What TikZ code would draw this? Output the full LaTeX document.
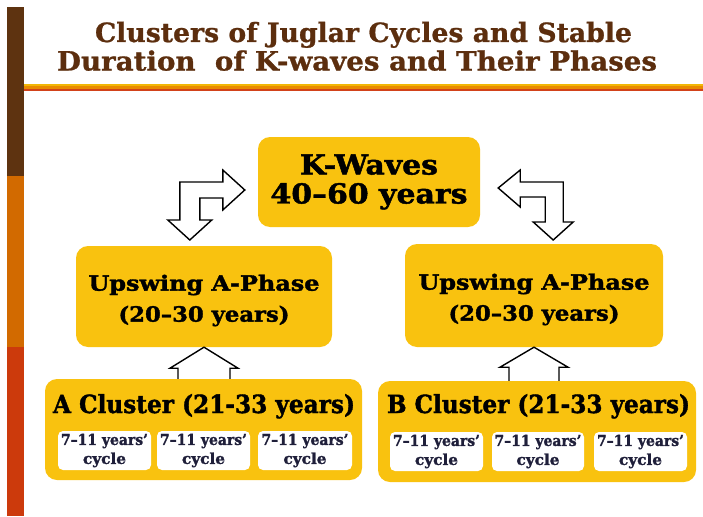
\documentclass[tikz,border=0pt]{standalone}
\usepackage{fontspec}
\usepackage{graphicx}
\setmainfont{DejaVu Serif}
\newfontfamily\heavyfont{DejaVu Serif}[BoldFeatures={FakeBold=1.6}]
\newfontfamily\midfont{DejaVu Serif}[BoldFeatures={FakeBold=0.9}]
\newcommand\fitw[2]{\resizebox{#1}{\height}{#2}}
\definecolor{gold}{HTML}{F9C20F}
\definecolor{ttl}{HTML}{5C2E0E}
\definecolor{barbrown}{HTML}{5E3310}
\definecolor{barorange}{HTML}{D26A00}
\definecolor{barred}{HTML}{CC3A0C}
\definecolor{lnyel}{HTML}{F2B705}
\definecolor{lnora}{HTML}{E98B00}
\definecolor{lnred}{HTML}{D2421A}
\definecolor{cyctext}{HTML}{1F1F3A}
\begin{document}
\begin{tikzpicture}[x=1pt,y=-1pt,
  box/.style={fill=gold, rounded corners=12pt, draw=none, inner sep=0pt},
  cyc/.style={fill=white, rounded corners=5pt, minimum width=93pt, minimum height=39pt,
    inner sep=0pt, align=center, text=cyctext,
    font=\heavyfont\fontsize{15}{19}\selectfont\bfseries},
  txt/.style={inner sep=0pt, align=center},
  arr/.style={draw=black, fill=white, line width=1.4pt, line join=miter}]
\useasboundingbox (0,0) rectangle (703,516);
% side bar
\fill[barbrown] (7,7) rectangle (24,176);
\fill[barorange] (7,176) rectangle (24,347);
\fill[barred] (7,347) rectangle (24,516);
% rule under title
\fill[lnyel] (24,84) rectangle (703,86.4);
\fill[lnora] (24,86.4) rectangle (703,88.7);
\fill[lnred] (24,88.7) rectangle (703,91);
% title
\node[txt, anchor=base, text=ttl, font=\midfont\fontsize{26.5}{30}\selectfont\bfseries] (t1) at (363.5,42)
  {\fitw{537pt}{Clusters of Juglar Cycles and Stable}};
\node[txt, anchor=base, text=ttl, font=\midfont\fontsize{26.5}{30}\selectfont\bfseries] (t2) at (357,70.5)
  {\fitw{600pt}{Duration\ \ of K-waves and Their Phases}};
% boxes
\node[box, minimum width=222pt, minimum height=90pt, align=center,
  font=\heavyfont\fontsize{27.5}{29}\selectfont\bfseries] (kw) at (369,182)
  {\fitw{138pt}{K-Waves}\\\fitw{197pt}{40–60 years}};
\node[box, minimum width=256pt, minimum height=101pt] (upL) at (204,296.5) {};
\node[box, minimum width=258pt, minimum height=103pt] (upR) at (534,295.5) {};
\node[txt, font=\heavyfont\fontsize{21}{31}\selectfont\bfseries] (upLt) at (upL.center) [yshift=-4pt]
  {\fitw{231pt}{Upswing A-Phase}\\\fitw{171pt}{(20–30 years)}};
\node[txt, font=\heavyfont\fontsize{21}{31}\selectfont\bfseries] (upRt) at (upR.center) [yshift=-4pt]
  {\fitw{231pt}{Upswing A-Phase}\\\fitw{171pt}{(20–30 years)}};
% up arrows (drawn before cluster boxes)
\draw[arr, shift={(upL.south)}] (0,0) -- (34,21) -- (26,21) -- (26,35) -- (-26,35) -- (-26,21) -- (-34,21) -- cycle;
\draw[arr, shift={(upR.south)}] (0,0) -- (34,20) -- (25,20) -- (25,37) -- (-25,37) -- (-25,20) -- (-34,20) -- cycle;
% bent arrows
\draw[arr, shift={(kw.west)}] (-78,0) -- (-35,0) -- (-35,-12) -- (-13,8) -- (-35,28) -- (-35,16)
  -- (-58,16) -- (-58,38) -- (-46,38) -- (-68,58) -- (-90,38) -- (-78,38) -- cycle;
\draw[arr, shift={(kw.east)}] (83,0) -- (40,0) -- (40,-12) -- (18,6) -- (40,25) -- (40,15)
  -- (65,15) -- (65,40) -- (53,40) -- (73,58) -- (93,40) -- (83,40) -- cycle;
% cluster boxes
\node[box, minimum width=317pt, minimum height=101pt] (clA) at (203.5,429.5) {};
\node[box, minimum width=318pt, minimum height=101pt] (clB) at (537,431.5) {};
\node[txt, anchor=base, font=\heavyfont\fontsize{25}{28}\selectfont\bfseries] (clAt) at (204,413)
  {\fitw{302pt}{A Cluster (21-33 years)}};
\node[txt, anchor=base, font=\heavyfont\fontsize{25}{28}\selectfont\bfseries] (clBt) at (538.5,413)
  {\fitw{303pt}{B Cluster (21-33 years)}};
% cycle boxes
\node[cyc] (a1) at (104.5,450.5) {\fitw{87pt}{7–11 years’}\\\fitw{43pt}{cycle}};
\node[cyc] (a2) at (203.5,450.5) {\fitw{87pt}{7–11 years’}\\\fitw{43pt}{cycle}};
\node[cyc, minimum width=94pt] (a3) at (305,450.5) {\fitw{87pt}{7–11 years’}\\\fitw{43pt}{cycle}};
\node[cyc] (b1) at (436.5,451.5) {\fitw{87pt}{7–11 years’}\\\fitw{43pt}{cycle}};
\node[cyc, minimum width=92pt] (b2) at (538,451.5) {\fitw{87pt}{7–11 years’}\\\fitw{43pt}{cycle}};
\node[cyc] (b3) at (640.5,451.5) {\fitw{87pt}{7–11 years’}\\\fitw{43pt}{cycle}};
\end{tikzpicture}
\end{document}
